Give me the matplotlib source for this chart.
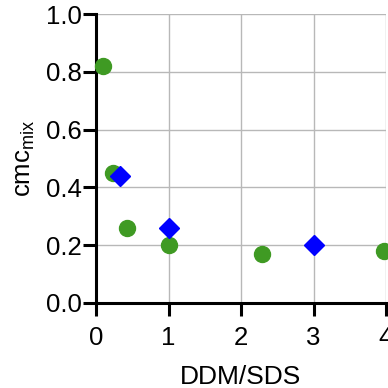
import matplotlib
matplotlib.use('Agg')
import matplotlib.pyplot as plt

plt.rcParams['font.family'] = ['Liberation Sans', 'DejaVu Sans']
plt.rcParams['mathtext.fontset'] = 'custom'
plt.rcParams['mathtext.rm'] = 'Liberation Sans'
plt.rcParams['mathtext.it'] = 'Liberation Sans:italic'

# green circles
circ_x = [0.10, 0.24, 0.43, 1.0, 2.29, 3.97]
circ_y = [0.82, 0.45, 0.26, 0.20, 0.17, 0.18]
# blue diamonds
diam_x = [0.33, 1.0, 3.0]
diam_y = [0.44, 0.26, 0.20]

x_ticks = [0, 1, 2, 3, 4]
y_ticks = [0.0, 0.2, 0.4, 0.6, 0.8, 1.0]

fig = plt.figure(figsize=(3.88, 3.88), dpi=100)
ax = fig.add_axes([96 / 388, 1 - 303 / 388, 290 / 388, 289 / 388])

ax.plot(circ_x, circ_y, 'o', color='#3f9a23', markersize=11.5, zorder=3, clip_on=False)
ax.plot(diam_x, diam_y, 'D', color='#0000ff', markersize=10, zorder=4, clip_on=False)

ax.set_xlim(0, 4)
ax.set_ylim(0, 1.0)
ax.set_xticks(x_ticks)
ax.set_yticks(y_ticks)
ax.set_yticklabels(['%.1f' % v for v in y_ticks])
ax.grid(True, color='#b8b8b8', linewidth=1.0, zorder=0)
ax.set_axisbelow(True)

for s in ['top', 'right']:
    ax.spines[s].set_visible(False)
for s in ['left', 'bottom']:
    ax.spines[s].set_linewidth(2.2)

ax.tick_params(axis='both', direction='out', length=9.5, width=2.2, labelsize=18.5)
ax.tick_params(axis='y', pad=1)
ax.tick_params(axis='x', pad=7)

ax.set_xlabel('DDM/SDS', fontsize=19, labelpad=11)
ax.set_ylabel(r'cmc$_{\mathrm{mix}}$', fontsize=18.5, labelpad=6)

fig.savefig('out.png', dpi=100)
